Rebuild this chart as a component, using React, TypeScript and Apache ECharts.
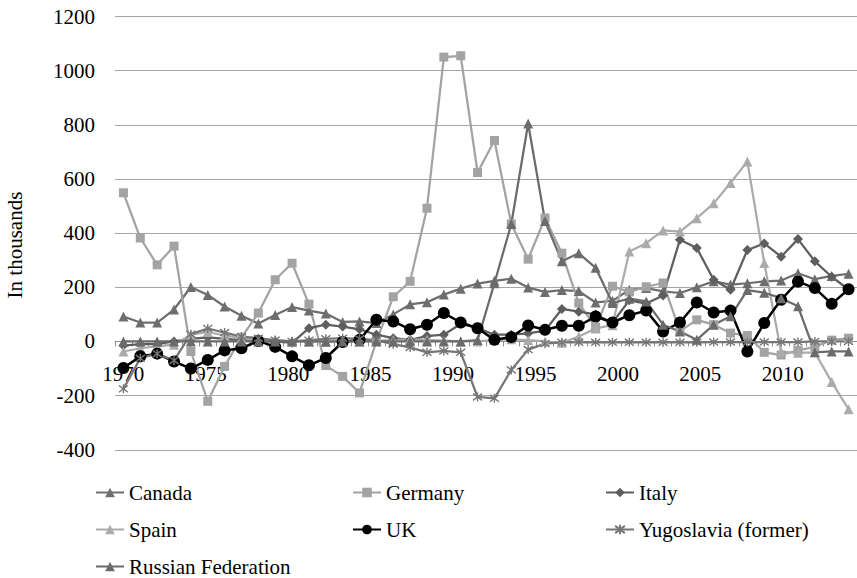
import React, { useEffect, useRef } from "react";
import * as echarts from "echarts";

// Data years (one point per year)
const years = [
  "1970", "1971", "1972", "1973", "1974", "1975", "1976", "1977", "1978", "1979",
  "1980", "1981", "1982", "1983", "1984", "1985", "1986", "1987", "1988", "1989",
  "1990", "1991", "1992", "1993", "1994", "1995", "1996", "1997", "1998", "1999",
  "2000", "2001", "2002", "2003", "2004", "2005", "2006", "2007", "2008", "2009",
  "2010", "2011", "2012", "2013",
];

// Tick-label categories of the category axis (label every 5th)
const labelYears = [
  "1970", "1971", "1972", "1973", "1974", "1975", "1976", "1977", "1978", "1979",
  "1980", "1981", "1982", "1983", "1984", "1985", "1986", "1987", "1988", "1989",
  "1990", "1991", "1992", "1993", "1994", "1995", "1996", "1997", "1998", "1999",
  "2000", "2001", "2002", "2003", "2004", "2005", "2006", "2007", "2008", "2009",
  "2010", "2011", "2012", "2013", "2014",
];

const canada = [
  92, 70, 70, 118, 201, 172, 129, 95, 66, 98,
  127, 114, 103, 72, 74, 68, 100, 137, 145, 173,
  195, 214, 224, 232, 199, 183, 190, 186, 144, 150,
  191, 197, 185, 179, 200, 222, 210, 215, 222, 225,
  252, 230, 242, 250,
];
const germany = [
  549, 382, 283, 352, -37, -221, -92, 15, 105, 228,
  289, 138, -89, -129, -190, 0, 165, 222, 492, 1050,
  1055, 624, 742, 434, 304, 456, 326, 142, 52, 204,
  183, 202, 216, 38, 80, 62, 31, 22, -40, -50,
  -33, -20, 5, 12,
];
const italy = [
  -15, -10, -10, 0, 10, 15, 10, 5, 0, 0,
  -5, 49, 62, 55, 45, 25, 12, 6, 20, 25,
  65, 50, 25, 25, 30, 40, 120, 110, 100, 70,
  152, 140, 170, 376, 345, 228, 191, 338, 362, 313,
  378, 296, 239, 192,
];
const spain = [
  -37, -25, -18, -12, 25, 35, 22, 12, 5, 3,
  0, 0, -2, 0, 0, 2, 5, 8, 6, 3,
  0, 0, 5, 8, 5, 0, -5, 18, 48, 60,
  332, 363, 410, 406, 455, 510, 585, 665, 290, -38,
  -42, -40, -150, -250,
];
const uk = [
  -98, -55, -45, -74, -100, -68, -33, -25, 2, -20,
  -55, -88, -61, -2, 6, 80, 74, 45, 62, 105,
  70, 49, 6, 16, 59, 43, 58, 58, 92, 70,
  97, 114, 37, 70, 144, 107, 114, -37, 68, 154,
  221, 197, 139, 193,
];
const yugoslavia = [
  -175, -62, -45, -70, 27, 48, 33, 18, 12, 5,
  0, 5, 10, 12, 10, 5, -10, -22, -40, -35,
  -40, -205, -210, -105, -30, -8, -3, -3, -3, -3,
  -3, -3, -3, -3, -3, -2, -2, -2, -2, -2,
  -2, 0, 0, 0,
];
const russia = [
  0, 0, 0, 0, 0, 0, 0, 0, 0, 0,
  0, 0, 0, 0, 0, 0, 0, 0, 0, 0,
  0, 5, 215, 434, 805, 445, 296, 326, 272, 142,
  158, 148, 62, 37, 6, 62, 93, 190, 180, 160,
  130, -40, -37, -37,
];

const yTicks = { min: -400, max: 1200, interval: 200 };

const FONT = "Times New Roman";
const ASTERISK = "path://M5,0L5,10M1.2,1.2L8.8,8.8M8.8,1.2L1.2,8.8";

const GRID_TOP = 16.5;
const GRID_BOTTOM = 128.2;
const CHART_H = 578;

export default function App() {
  const ref = useRef<HTMLDivElement>(null);

  useEffect(() => {
    if (!ref.current) return;
    const chart = echarts.init(ref.current, null, { renderer: "svg" });

    // the label axis sits on the value-0 line
    const plotH = CHART_H - GRID_TOP - GRID_BOTTOM;
    const zeroOffset = -plotH * ((0 - yTicks.min) / (yTicks.max - yTicks.min));

    const txt = { fontFamily: FONT, fontSize: 21, color: "#000", fontStyle: "normal", fontWeight: "normal" };
    const rich = { s: { ...txt } };

    const mk = (
      name: string,
      data: number[],
      color: string,
      symbol: string,
      size: number,
      width = 2.25,
      stroke = false
    ) => ({
      name,
      type: "line",
      data,
      xAxisIndex: 0,
      yAxisIndex: 0,
      symbol,
      symbolSize: size,
      showSymbol: true,
      showAllSymbol: true,
      lineStyle: { color, width },
      itemStyle: stroke
        ? { color, borderColor: color, borderWidth: 1.4 }
        : { color, borderWidth: 0 },
      emphasis: { disabled: true },
      silent: true,
    });

    const legendCommon = {
      orient: "vertical",
      itemWidth: 28,
      itemHeight: 12,
      itemGap: 16,
      padding: 0,
      selectedMode: false,
      formatter: (n: string) => "{s|" + n + "}",
      textStyle: { ...txt, rich },
    };

    chart.setOption({
      animation: false,
      backgroundColor: "#ffffff",
      textStyle: { fontFamily: FONT },
      grid: {
        left: 115,
        right: 0,
        top: GRID_TOP,
        bottom: GRID_BOTTOM,
        containLabel: false,
        outerBoundsMode: "none",
      },
      xAxis: [
        {
          type: "category",
          data: years,
          boundaryGap: true,
          position: "bottom",
          axisLine: { show: true, onZero: true, lineStyle: { color: "#8f8f8f", width: 1.2 } },
          axisTick: { show: true, interval: 0, length: 5, inside: false, alignWithLabel: false, lineStyle: { color: "#8f8f8f", width: 1 } },
          axisLabel: { show: false },
          splitLine: { show: false },
        },
        {
          type: "category",
          data: labelYears,
          boundaryGap: true,
          position: "bottom",
          offset: zeroOffset,
          axisLine: { show: false, onZero: false },
          axisTick: { show: false },
          axisLabel: { show: true, interval: 4, margin: 22, ...txt },
          splitLine: { show: false },
        },
      ],
      yAxis: [
        {
          type: "value",
          ...yTicks,
          axisLine: { show: false },
          axisTick: { show: false },
          axisLabel: {
            show: true,
            margin: 20,
            ...txt,
            rich,
            formatter: (v: number) => "{s|" + String(v) + "}",
          },
          splitLine: { show: true, lineStyle: { color: "#a6a6a6", width: 1 } },
        },
      ],
      legend: [
        { ...legendCommon, left: 95, top: 482, data: ["Canada", "Spain", "Russian Federation"] },
        { ...legendCommon, left: 352, top: 482, data: ["Germany", "UK"] },
        { ...legendCommon, left: 605, top: 482, data: ["Italy", "Yugoslavia (former)"] },
      ],
      graphic: [
        {
          type: "text",
          x: 15,
          y: 245,
          rotation: Math.PI / 2,
          style: {
            text: "In thousands",
            fontFamily: FONT,
            fontSize: 21,
            fill: "#000",
            align: "center",
            verticalAlign: "middle",
          },
        },
      ],
      series: [
        mk("Canada", canada, "#6e6e6e", "triangle", 10),
        mk("Germany", germany, "#a3a3a3", "rect", 9),
        mk("Italy", italy, "#5e5e5e", "diamond", 10),
        mk("Spain", spain, "#ababab", "triangle", 10),
        mk("UK", uk, "#000000", "circle", 12, 2.5),
        mk("Yugoslavia (former)", yugoslavia, "#767676", ASTERISK, 9, 2.25, true),
        mk("Russian Federation", russia, "#6b6b6b", "triangle", 10),
      ],
    });

    return () => chart.dispose();
  }, []);

  return (
    <div
      ref={ref}
      style={{ position: "absolute", left: 0, top: 0, width: 857, height: 578 }}
    />
  );
}
